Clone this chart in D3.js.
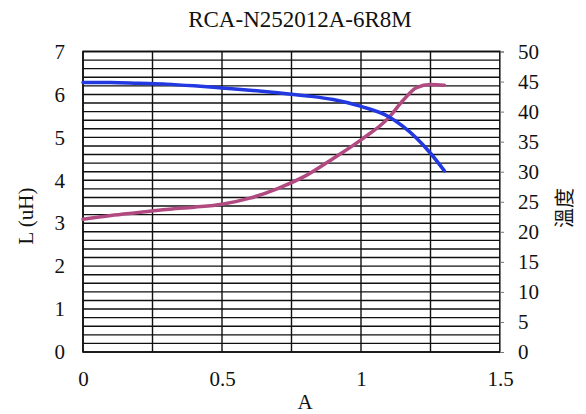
<!DOCTYPE html>
<html><head><meta charset="utf-8">
<script src="https://cdn.jsdelivr.net/npm/d3@7"></script>
<style>body{margin:0;background:#fff}</style>
</head><body>
<svg id="c" width="586" height="414"></svg>
<script>
const title = "RCA-N252012A-6R8M";
const xLabel = "A";
const yLabelLeft = "L (uH)";
const yLabelRight = "溫度";
const xTicks = [0, 0.5, 1, 1.5];
const yTicksLeft = [0,1,2,3,4,5,6,7];
const yTicksRight = [0,5,10,15,20,25,30,35,40,45,50];
const current = [0,0.1,0.2,0.3,0.4,0.5,0.6,0.7,0.8,0.9,1.0,1.1,1.15,1.2,1.25,1.3];
const inductance = [6.28,6.28,6.26,6.24,6.20,6.15,6.10,6.04,5.97,5.88,5.72,5.48,5.26,4.98,4.63,4.22];
const temperature = [22.1,22.7,23.2,23.7,24.1,24.6,25.6,27.2,29.3,32.2,35.3,39.0,41.8,44.0,44.5,44.4];

const svg = d3.select("#c");
const L = 83, R = 500, T = 51.5, B = 352;
const x = d3.scaleLinear().domain([0,1.5]).range([L,R]);
const yl = d3.scaleLinear().domain([0,7]).range([B,T]);
const yr = d3.scaleLinear().domain([0,50]).range([B,T]);
const font = "'Liberation Serif','Times New Roman',serif";

// grid
const g = svg.append("g");
g.selectAll("line.h").data(d3.range(0,36).map(i=>i*0.2)).join("line")
  .attr("x1",L).attr("x2",R).attr("y1",d=>yl(d)).attr("y2",d=>yl(d))
  .attr("stroke","#111").attr("stroke-width",1.4);
g.selectAll("line.v").data(d3.range(0,7).map(i=>i*0.25)).join("line")
  .attr("y1",T).attr("y2",B).attr("x1",d=>x(d)).attr("x2",d=>x(d))
  .attr("stroke","#111").attr("stroke-width",1.4);
g.append("rect").attr("x",L).attr("y",T).attr("width",R-L).attr("height",B-T)
  .attr("fill","none").attr("stroke","#111").attr("stroke-width",1.6);

// axes
const ax = svg.append("g").attr("transform",`translate(0,${B})`)
  .call(d3.axisBottom(x).tickValues(xTicks).tickSize(0).tickPadding(19).tickFormat(d3.format("~g")));
ax.select(".domain").remove();
const al = svg.append("g").attr("transform",`translate(${L},0)`)
  .call(d3.axisLeft(yl).tickValues(yTicksLeft).tickSize(0).tickPadding(18).tickFormat(d3.format("d")));
al.select(".domain").remove();
const ar = svg.append("g").attr("transform",`translate(${R},0)`)
  .call(d3.axisRight(yr).tickValues(yTicksRight).tickSize(4).tickPadding(14).tickFormat(d3.format("d")));
ar.select(".domain").attr("stroke","#777");
ar.selectAll(".tick line").attr("stroke","#777");
svg.selectAll(".tick text").attr("font-family",font).attr("font-size",21).attr("fill","#111");

// lines
const lineL = d3.line().x((d,i)=>x(current[i])).y(d=>yl(d)).curve(d3.curveMonotoneX);
const lineT = d3.line().x((d,i)=>x(current[i])).y(d=>yr(d)).curve(d3.curveMonotoneX);
svg.append("path").attr("d",lineT(temperature)).attr("fill","none")
  .attr("stroke","#b04a80").attr("stroke-width",3.5).attr("stroke-linecap","round");
svg.append("path").attr("d",lineL(inductance)).attr("fill","none")
  .attr("stroke","#2238e0").attr("stroke-width",3.5).attr("stroke-linecap","round");

// labels
svg.append("text").attr("x",300).attr("y",27).attr("text-anchor","middle")
  .attr("font-family",font).attr("font-size",23).attr("fill","#111").text(title);
svg.append("text").attr("x",305).attr("y",409).attr("text-anchor","middle")
  .attr("font-family",font).attr("font-size",21).attr("fill","#111").text(xLabel);
svg.append("text").attr("transform","translate(33,216) rotate(-90)").attr("text-anchor","middle")
  .attr("font-family",font).attr("font-size",21).attr("fill","#111").text(yLabelLeft);
svg.append("text").attr("transform","translate(572,208) rotate(-90)").attr("text-anchor","middle")
  .attr("font-family","'Noto Sans CJK TC',sans-serif").attr("font-size",20).attr("fill","#111").text(yLabelRight);
</script>
</body></html>
